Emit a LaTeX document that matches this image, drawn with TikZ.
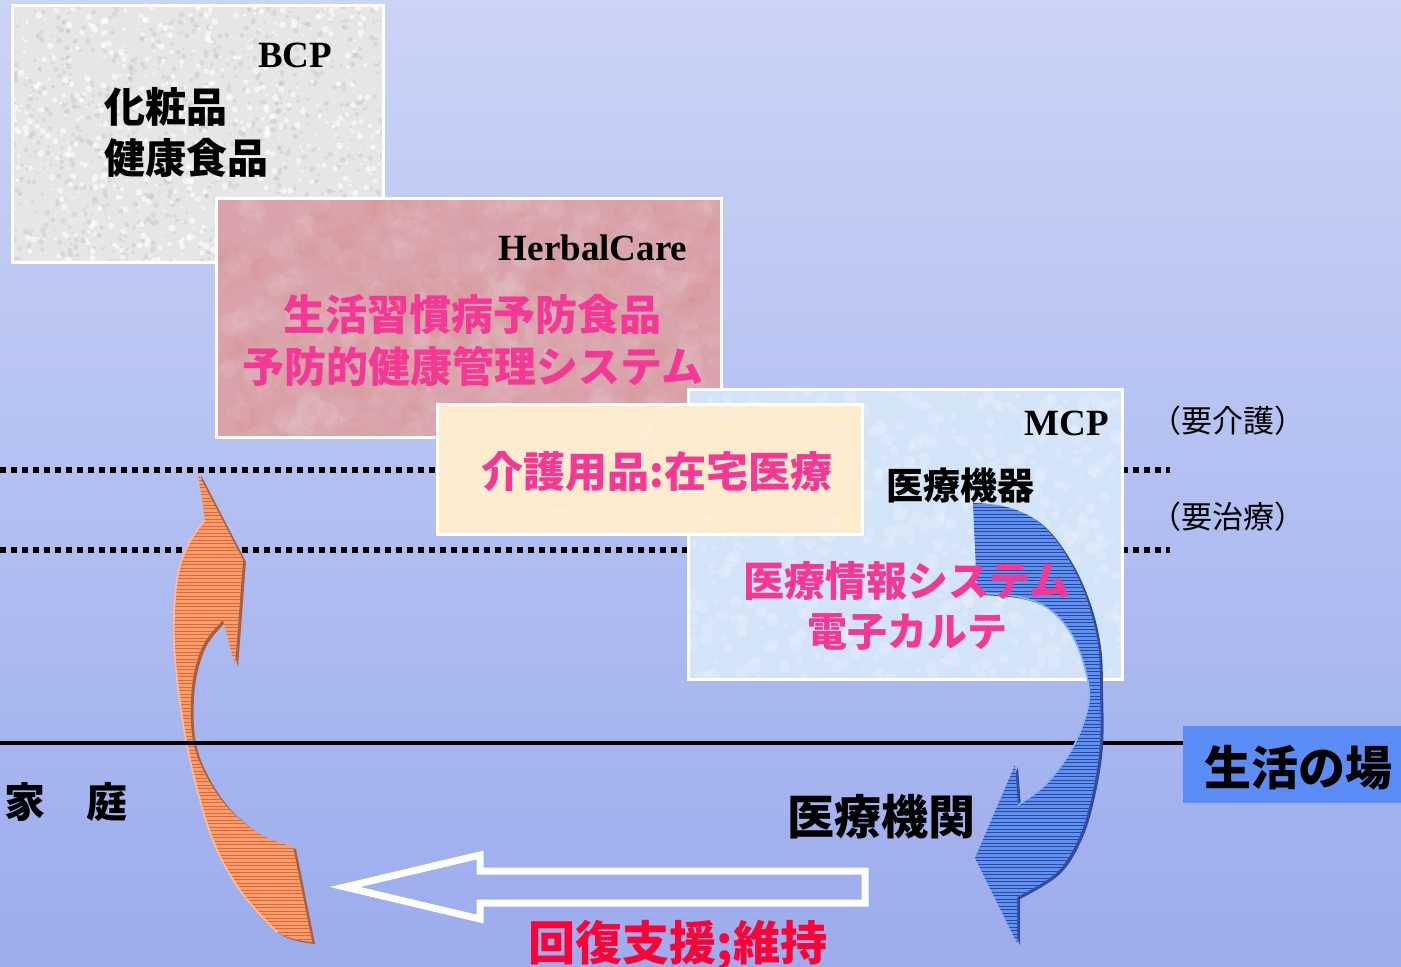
\documentclass[tikz,border=0pt]{standalone}
\usepackage{fontspec}
\setmainfont{Liberation Serif}
\newfontfamily\jp{Noto Sans CJK JP}
\definecolor{bgtop}{RGB}{203,212,246}
\definecolor{bgbot}{RGB}{156,172,237}
\definecolor{bcpgray}{RGB}{230,230,230}
\definecolor{herbpink}{RGB}{218,163,171}
\definecolor{mcpblue}{RGB}{212,228,248}
\definecolor{careyellow}{RGB}{252,235,205}
\definecolor{jpink}{RGB}{245,55,150}
\definecolor{jred}{RGB}{255,0,55}
\definecolor{labblue}{RGB}{92,140,245}
\definecolor{ofill}{RGB}{255,155,105}
\definecolor{ostripe}{RGB}{200,110,70}
\definecolor{odark}{RGB}{170,95,65}
\definecolor{olight}{RGB}{255,190,150}
\definecolor{bfill}{RGB}{95,145,245}
\definecolor{bstripe}{RGB}{45,70,150}
\definecolor{bdark}{RGB}{50,75,160}
\definecolor{blight}{RGB}{140,180,250}
\tikzset{
  boxst/.style={draw=white, line width=1.5pt},
  dotline/.style={line width=3pt, dash pattern=on 3pt off 2.5pt},
  jtext/.style={font=\jp\bfseries\fontsize{#1}{#1}\selectfont, inner sep=0pt},
  jreg/.style={font=\jp\fontsize{#1}{#1}\selectfont, inner sep=0pt},
  ltext/.style={font=\bfseries\fontsize{#1}{#1}\selectfont, inner sep=0pt},
}
\def\orangepath{(198,473) -- (243,560) -- (235,665) -- (223,620)
  -- plot[smooth, tension=0.6] coordinates {(223,620) (203,645) (192,685) (192,735) (204,772) (228,808) (260,834) (293,847)}
  -- (312,942)
  -- plot[smooth, tension=0.6] coordinates {(312,942) (277,932) (242,893) (214,843) (194,777) (181,710) (174,640) (177,580) (188,545) (205,520)}
  -- cycle}
\def\bluepath{(973,503)
  -- plot[smooth, tension=0.6] coordinates {(973,503) (1007,507) (1040,523) (1067,557) (1087,600) (1098,645) (1100,690) (1100,743) (1093,790) (1080,835) (1057,872) (1017,897)}
  -- (1017,943) -- (975,858) -- (1015,765) -- (1018,805)
  -- plot[smooth, tension=0.6] coordinates {(1018,805) (1047,783) (1073,747) (1088,707) (1087,677) (1073,637) (1050,610) (1020,597) (977,593)}
  -- cycle}
% speckle texture: #1 x0, #2 y0, #3 w, #4 h, #5 count, #6 colour, #7 opacity, #8 max radius
\newcommand\speckle[8]{%
  \begin{scope}
    \clip (#1,#2) rectangle ({#1+#3},{#2+#4});
    \foreach \i in {1,...,#5} {%
      \pgfmathsetmacro\sx{#1+#3*rnd}%
      \pgfmathsetmacro\sy{#2+#4*rnd}%
      \pgfmathsetmacro\sr{1+#8*rnd}%
      \fill[#6, opacity=#7] (\sx,\sy) circle[radius=\sr];
    }
  \end{scope}}
\begin{document}
\begin{tikzpicture}[x=0.5pt,y=-0.5pt]
\pgfmathsetseed{7}
\useasboundingbox (0,0) rectangle (1401,967);
\shade[top color=bgtop, bottom color=bgbot] (0,0) rectangle (1401,967);
% dotted level lines
\draw[dotline] (0,470) -- (1170,470);
\draw[dotline] (0,550) -- (1170,550);
% boxes
\fill[bcpgray] (12,6) rectangle (383,263);
\speckle{12}{6}{371}{257}{900}{gray!55}{0.3}{2}
\speckle{12}{6}{371}{257}{700}{white}{0.6}{2.5}
\draw[boxst] (12,6) rectangle (383,263);
\fill[herbpink] (216,199) rectangle (721,438);
\speckle{216}{199}{505}{239}{500}{white}{0.05}{14}
\speckle{216}{199}{505}{239}{300}{red!40!brown}{0.03}{14}
\draw[boxst] (216,199) rectangle (721,438);
\fill[mcpblue] (688,390) rectangle (1122,679);
\speckle{688}{390}{434}{289}{700}{white}{0.15}{6}
\draw[boxst] (688,390) rectangle (1122,679);
\fill[careyellow] (437,405) rectangle (862,534);
\speckle{437}{405}{425}{129}{200}{white}{0.1}{8}
\draw[boxst] (437,405) rectangle (862,534);
% orange curved arrow
\begin{scope}[shift={(3,2)}]
  \fill[odark] \orangepath;
\end{scope}
\fill[ofill] \orangepath;
\begin{scope}
  \clip \orangepath;
  \foreach \yy in {470,473.5,...,950} {\draw[ostripe, line width=0.4pt] (160,\yy) -- (330,\yy);}
\end{scope}
\draw[olight, line width=0.8pt] (205,520) -- plot[smooth, tension=0.6] coordinates {(205,520) (188,545) (177,580) (174,640) (181,710) (194,777) (214,843) (242,893) (277,932)};
% base line
\draw[line width=2pt] (0,743) -- (1183,743);
% blue curved arrow
\begin{scope}[shift={(3,2)}]
  \fill[bdark] \bluepath;
\end{scope}
\fill[bfill] \bluepath;
\begin{scope}
  \clip \bluepath;
  \foreach \yy in {500,503.5,...,950} {\draw[bstripe, line width=0.4pt] (960,\yy) -- (1110,\yy);}
\end{scope}
\draw[blight, line width=0.8pt] (1018,805) -- plot[smooth, tension=0.6] coordinates {(1018,805) (1047,783) (1073,747) (1088,707) (1087,677) (1073,637) (1050,610) (1020,597) (977,593)};
% hollow arrow
\coordinate (ha1) at (345,887);
\draw[white, line width=3.5pt, line join=miter] (ha1) -- (480,855) -- (480,871) -- (865,871) -- (865,903) -- (480,903) -- (480,919) -- cycle;
% label box
\node[fill=labblue, minimum width=109pt, minimum height=38.5pt, inner sep=0pt] (placebox) at (1292,764.5) {};
\node[jtext=23.5] (place) at (1298,768) {生活の場};
% texts
\node[ltext=18.5] (bcp) at (295,55) {BCP};
\node[jtext=20.5, anchor=west] (cos1) at (104,107) {化粧品};
\node[jtext=20.5, anchor=west] (cos2) at (104,158) {健康食品};
\node[ltext=18.5] (herbal) at (593,248) {HerbalCare};
\node[jtext=21, text=jpink] (hp1) at (472,315) {生活習慣病予防食品};
\node[jtext=21, text=jpink] (hp2) at (473,366) {予防的健康管理システム};
\node[ltext=18.5] (mcp) at (1067,423) {MCP};
\node[jtext=18.5] (mdev) at (960,485) {医療機器};
\node[jtext=21, text=jpink] (care) at (657,472) {介護用品:在宅医療};
\node[jtext=20.5, text=jpink] (mis) at (907,581) {医療情報システム};
\node[jtext=20, text=jpink] (emr) at (907,632) {電子カルテ};
\node[jreg=15.5] (yk) at (1228,421) {（要介護）};
\node[jreg=15.5] (yc) at (1228,517) {（要治療）};
\node[jtext=20.5] (home) at (66,802) {家　庭};
\node[jtext=23.5] (hosp) at (881,817) {医療機関};
\node[jtext=23.5, text=jred] (recov) at (678,946) {回復支援;維持};
\end{tikzpicture}
\end{document}
